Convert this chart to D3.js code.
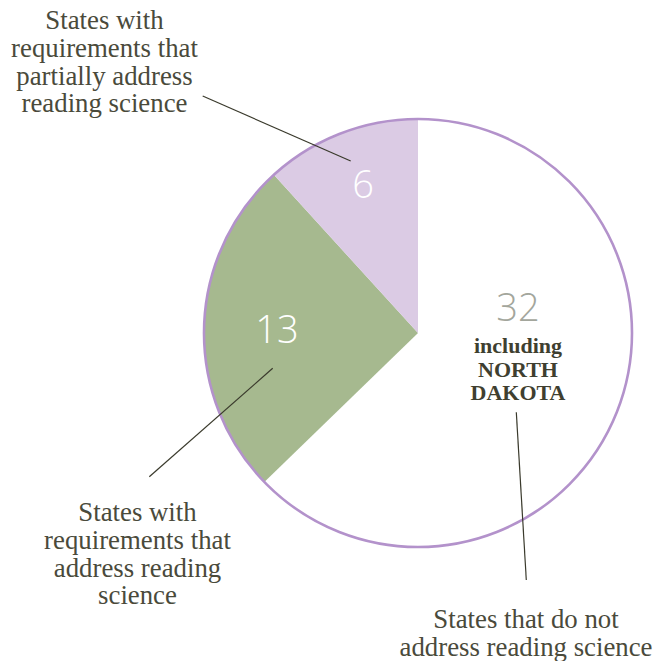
<!DOCTYPE html>
<html><head><meta charset="utf-8">
<script src="https://cdn.jsdelivr.net/npm/d3@7"></script>
<style>
html,body{margin:0;padding:0;background:#fff;}
svg{display:block;}
</style></head>
<body>
<svg id="chart" width="655" height="661"></svg>
<script>
// Data
const categories = ["States that do not address reading science",
                    "States with requirements that address reading science",
                    "States with requirements that partially address reading science"];
const values = [32, 13, 6];
const sliceColors = ["#ffffff", "#a6b98f", "#dbcbe4"];
const valueColors = ["#a3a69c", "#ffffff", "#ffffff"];
const labelLines = [
  ["States that do not", "address reading science"],
  ["States with", "requirements that", "address reading", "science"],
  ["States with", "requirements that", "partially address", "reading science"]
];
const noteLines = ["including", "NORTH", "DAKOTA"];

const svg = d3.select("#chart");
const cx = 418, cy = 333, R = 214;
const g = svg.append("g").attr("transform", `translate(${cx},${cy})`);

const pie = d3.pie().sort(null).value(d => d)(values);
const arc = d3.arc().innerRadius(0).outerRadius(R);

g.selectAll("path.slice").data(pie).join("path")
  .attr("class", "slice")
  .attr("d", arc)
  .attr("fill", (d, i) => sliceColors[i]);

g.append("circle").attr("r", R).attr("fill", "none")
  .attr("stroke", "#b392cb").attr("stroke-width", 2.6);

// Value labels positions (relative to center)
const valuePos = [[100, -12], [-141, 10], [-55, -135]];
const numFont = "'Open Sans', 'Noto Sans', sans-serif";
g.selectAll("text.val").data(pie).join("text")
  .attr("class", "val")
  .attr("x", (d, i) => valuePos[i][0])
  .attr("y", (d, i) => valuePos[i][1])
  .attr("text-anchor", "middle")
  .attr("font-family", numFont)
  .attr("font-weight", 300)
  .attr("font-size", 38)
  .attr("fill", (d, i) => valueColors[i])
  .text(d => d.data);

// note under 32
const note = g.append("text")
  .attr("text-anchor", "middle")
  .attr("font-family", "'Liberation Serif', 'DejaVu Serif', serif")
  .attr("font-weight", "bold")
  .attr("font-size", 22)
  .attr("fill", "#3f3f30");
noteLines.forEach((t, i) => {
  note.append("tspan").attr("x", 100).attr("y", 20 + i * 23.5).text(t);
});

// Leader lines (absolute page coords)
const leaders = [
  [[516.3, 412.3], [526.3, 580]],
  [[272.7, 368.3], [149.3, 476.7]],
  [[350.7, 161], [202.7, 96]]
];
svg.selectAll("line.lead").data(leaders).join("line")
  .attr("class", "lead")
  .attr("x1", d => d[0][0]).attr("y1", d => d[0][1])
  .attr("x2", d => d[1][0]).attr("y2", d => d[1][1])
  .attr("stroke", "#3a3a2c").attr("stroke-width", 1.2);

// Category labels
const labelPos = [[526, 628], [137.5, 521], [104.5, 29]];
const lh = 27.8;
labelLines.forEach((lines, i) => {
  const t = svg.append("text")
    .attr("text-anchor", "middle")
    .attr("font-family", "'Liberation Serif', 'DejaVu Serif', serif")
    .attr("font-size", 26.8)
    .attr("fill", "#4a4a3b");
  lines.forEach((s, j) => {
    t.append("tspan").attr("x", labelPos[i][0]).attr("y", labelPos[i][1] + j * lh).text(s);
  });
});
</script>
</body></html>
